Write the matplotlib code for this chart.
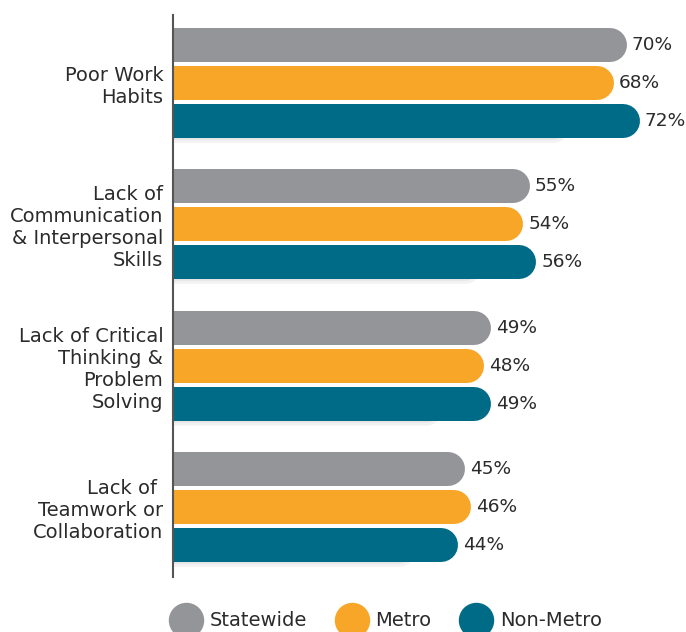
import matplotlib
matplotlib.use("Agg")
import matplotlib.pyplot as plt
from matplotlib.lines import Line2D
import matplotlib.transforms as mtransforms

categories = ["Poor Work\nHabits",
              "Lack of\nCommunication\n& Interpersonal\nSkills",
              "Lack of Critical\nThinking &\nProblem\nSolving",
              "Lack of \nTeamwork or\nCollaboration"]
series_names = ["Statewide", "Metro", "Non-Metro"]
statewide = [70, 55, 49, 45]
metro = [68, 54, 48, 46]
non_metro = [72, 56, 49, 44]
colors = ["#939598", "#F8A627", "#006B86"]

FONT = ["DejaVu Sans"]
plt.rcParams['font.family'] = FONT
FS = 14
TXT = "#2b2b2b"

W, H = 686, 632
fig = plt.figure(figsize=(W/100, H/100), dpi=100)
ax_left, ax_right, ax_top, ax_bot = 173, 686, 15, 577
ax = fig.add_axes([ax_left/W, 1-ax_bot/H, (ax_right-ax_left)/W, (ax_bot-ax_top)/H])
px_per_pct = 6.486
ax.set_xlim(0, (ax_right-ax_left)/px_per_pct)
ax.set_ylim(3.495, -0.481)

bar_px = 34
lw = bar_px*0.72
offset = 38/141.3
cap = mtransforms.ScaledTranslation(-bar_px/2/100, 0, fig.dpi_scale_trans)
shadow_tr = mtransforms.ScaledTranslation(-bar_px/2/100, -6/100, fig.dpi_scale_trans)

all_series = [statewide, metro, non_metro]
for gi in range(len(categories)):
    # subtle shadow under last bar
    v = all_series[2][gi]
    y = gi + offset
    for k, a in enumerate([0.05, 0.05, 0.05]):
        ax.plot([0, v*0.85], [y, y], color="#000000", alpha=a, lw=lw*(0.9-0.15*k),
                solid_capstyle='round', transform=ax.transData + shadow_tr, zorder=1)
    for si, vals in enumerate(all_series):
        y = gi + (si-1)*offset
        ax.plot([-10, vals[gi]], [y, y], color=colors[si], lw=lw,
                solid_capstyle='round', transform=ax.transData + cap, zorder=2)
        ax.annotate(f"{vals[gi]}%", (vals[gi], y), xytext=(3.5, 0), textcoords='offset points',
                    va='center', ha='left', fontsize=13.3, color=TXT)

ax.set_yticks(range(len(categories)))
ax.set_yticklabels(categories, fontsize=FS, color=TXT, linespacing=1.2)
ax.tick_params(axis='y', length=0, pad=7)
ax.set_xticks([])
for s in ["top", "right", "bottom"]:
    ax.spines[s].set_visible(False)
ax.spines["left"].set_color("#555555")
ax.spines["left"].set_linewidth(1.5)

handles = [Line2D([], [], marker='o', color='none', markerfacecolor=c, markeredgecolor=c,
                  markersize=24.5) for c in colors]
fig.legend(handles, series_names, loc='center', bbox_to_anchor=(0.562, 1-621/H), ncol=3,
           frameon=False, fontsize=FS, handletextpad=0.35, columnspacing=1.4,
           labelcolor=TXT, handlelength=1.75)

fig.savefig("out.png", dpi=100)
